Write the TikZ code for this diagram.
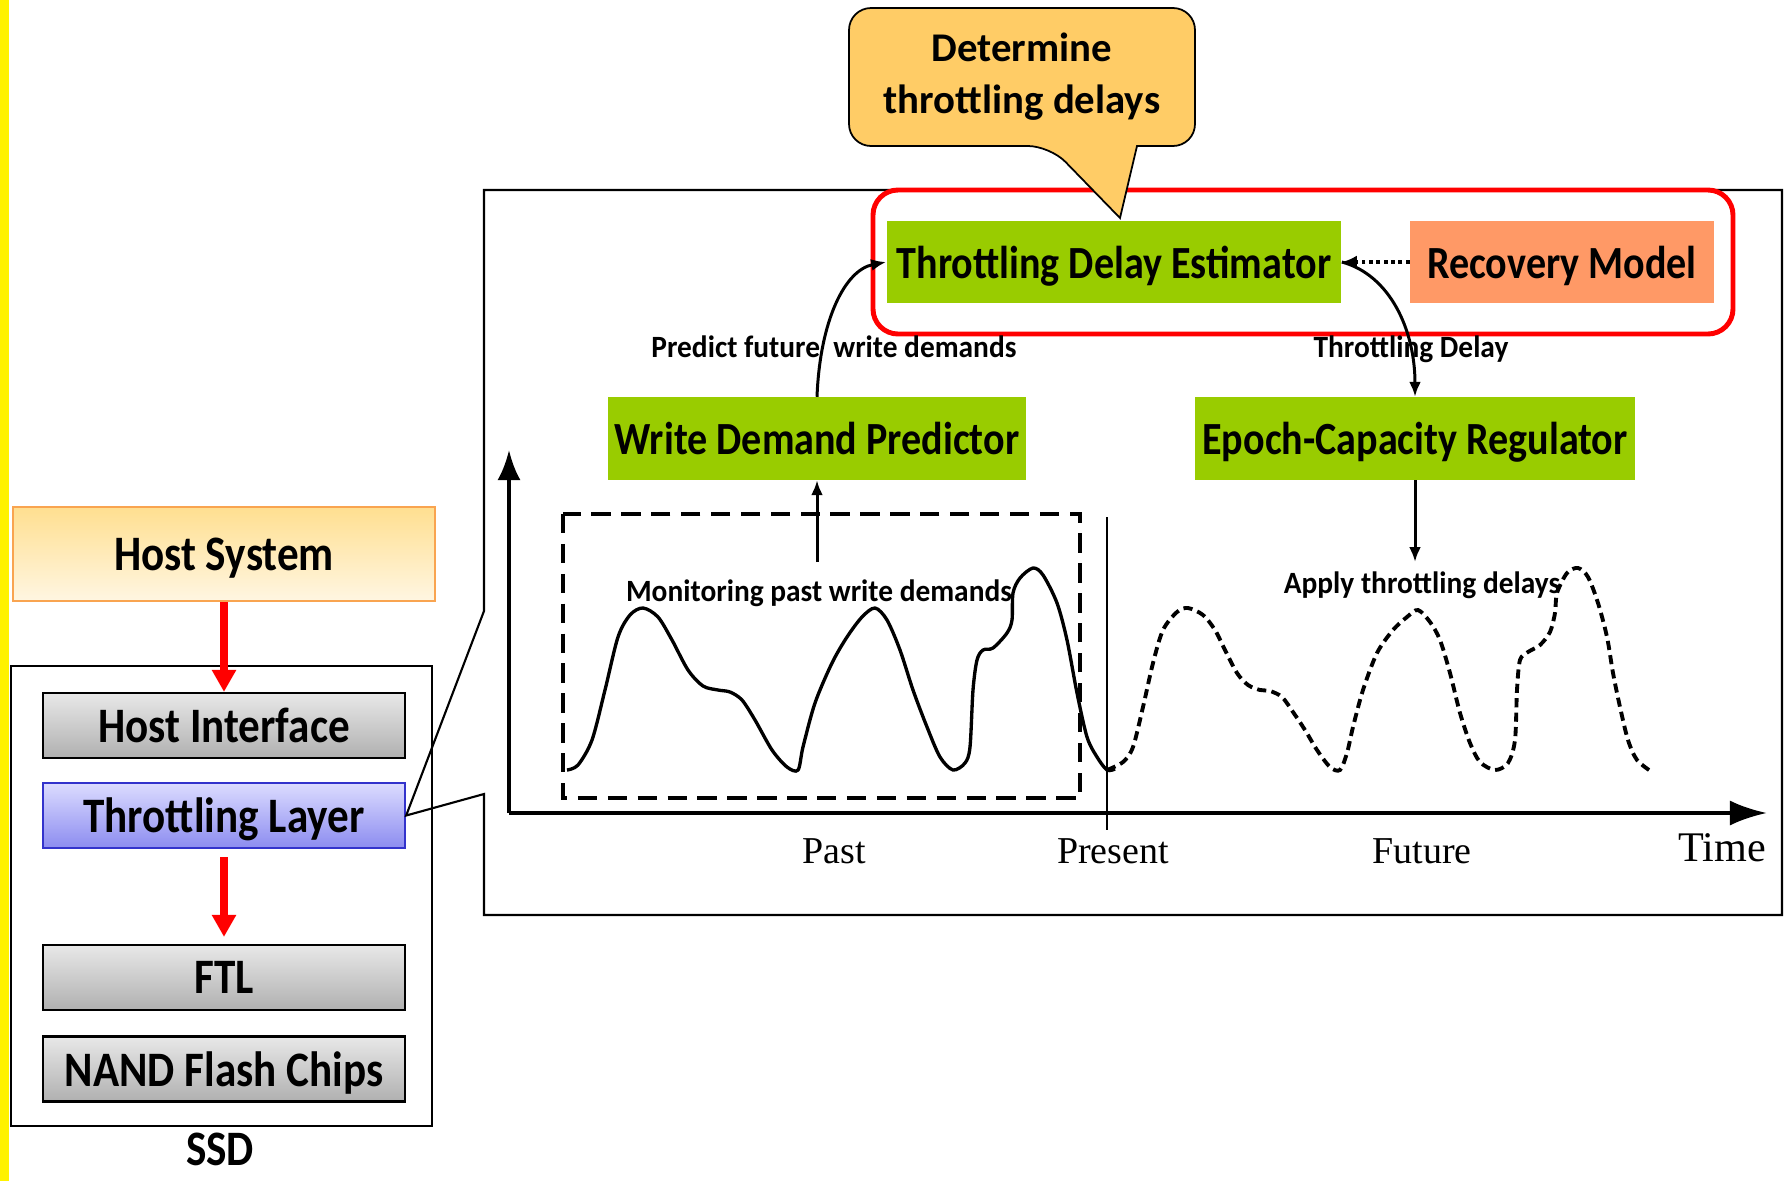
\documentclass[tikz,border=0pt]{standalone}
\usepackage{fontspec}
\setmainfont{Carlito}
\newfontfamily\condfont{Carlito}[FakeStretch=0.87]
\newfontfamily\notefont{Carlito}[FakeStretch=0.95]
\newfontfamily\timesfont{Liberation Serif}
\usetikzlibrary{arrows.meta}
\definecolor{boxgreen}{HTML}{99CC00}
\definecolor{salmon}{HTML}{FF9966}
\definecolor{bubble}{HTML}{FFCC66}
\definecolor{hosttop}{HTML}{FFDF90}
\definecolor{hostbot}{HTML}{FFF6E2}
\definecolor{hostedge}{HTML}{F9A450}
\definecolor{graytop}{HTML}{E8E8E8}
\definecolor{graybot}{HTML}{B0B0B0}
\definecolor{bluetop}{HTML}{DCDCFF}
\definecolor{bluebot}{HTML}{8C8CF0}
\definecolor{blueedge}{HTML}{3333CC}

\begin{document}
\begin{tikzpicture}[x=0.01cm, y=-0.01cm,
  ssdlayer/.style={draw=black, line width=0.6pt, top color=graytop, bottom color=graybot, text depth=0pt,
    minimum width=3.62cm, minimum height=0.65cm, font=\condfont\fontsize{14.1}{16}\selectfont\bfseries},
  module/.style={fill=boxgreen, minimum height=0.82cm, inner xsep=1pt, text depth=0pt,
    font=\condfont\fontsize{13.1}{15}\selectfont\bfseries},
  remark/.style={font=\notefont\fontsize{8.8}{10}\selectfont\bfseries},
  timelabel/.style={font=\timesfont\fontsize{10.8}{12}\selectfont},
  redarrow/.style={red, line width=2.3pt, -{Triangle[width=0.23cm,length=0.22cm]}},
  conn/.style={line width=0.85pt, -{Latex[length=0.15cm,width=0.12cm]}}]
\fill[yellow] (0,0) rectangle (9,1181);
\useasboundingbox (0,0) rectangle (1784,1181);

\node[draw=hostedge, line width=0.6pt, top color=hosttop, bottom color=hostbot, minimum width=4.21cm, text depth=0pt,
  minimum height=0.94cm, font=\condfont\fontsize{14.1}{16}\selectfont\bfseries] (host) at (224,554) {Host System};
\node[draw, line width=0.6pt, minimum width=4.21cm, minimum height=4.6cm] (ssd) at (221.5,896) {};
\node[ssdlayer] (hostif) at (224,725.5) {Host Interface};
\node[ssdlayer, draw=blueedge, top color=bluetop, bottom color=bluebot] (thr) at (224,815.5) {Throttling Layer};
\node[ssdlayer] (ftl) at (224,977.5) {FTL};
\node[ssdlayer] (nand) at (224,1069) {NAND Flash Chips};
\node[inner sep=0pt, font=\condfont\fontsize{14.1}{16}\selectfont\bfseries] (ssdname) at (220,1149) {SSD};
\draw[redarrow] (host.south) -- (hostif.north);
\draw[redarrow] ([yshift=-0.08cm]thr.south) -- ([yshift=0.07cm]ftl.north);

\draw[line width=0.6pt] (thr.east) -- (484,611) -- (484,190) -- (1782,190) -- (1782,915) -- (484,915) -- (484,794) -- cycle;

\draw[red, line width=1.4pt, rounded corners=0.25cm] (873,190) rectangle (1733,334);
\node[module, minimum width=4.54cm] (tde) at (1114,262) {Throttling Delay Estimator};
\node[module, fill=salmon, minimum width=3.03cm] (recov) at (1562,262) {Recovery Model};
\node[module, minimum width=4.17cm] (wdp) at (817,438.5) {Write Demand Predictor};
\node[module, minimum width=4.4cm] (ecr) at (1415,438.5) {Epoch-Capacity Regulator};

\draw[fill=bubble, line width=0.5pt] (1137,146) [rounded corners=0.22cm] -- (1195,146) -- (1195,8) -- (849,8) -- (849,146) -- (1050,146) [sharp corners] -- (1120,218) -- cycle;
\node[align=center, font=\fontsize{11.6}{14.8}\selectfont\bfseries] (goal) at (1022,76.5) {Determine\\throttling delays};

\draw[line width=1.1pt, dash pattern=on 1.1pt off 1pt, -{Latex[length=0.15cm,width=0.13cm]}] (recov) -- (tde);
\draw[conn] (wdp.north) .. controls (820,320) and (845,270) .. (tde.west);
\draw[conn] (tde.east) .. controls (1390,275) and (1415,330) .. (ecr.north);
\node[remark] (predict) at (834,347) {Predict future\ \ write demands};
\node[remark] (delay) at (1411,349) {Throttling Delay};

\coordinate (origin) at (509,813);
\coordinate (ytop) at (509,450);
\coordinate (xend) at (1767,813);
\coordinate (nowtop) at (1107,517);
\coordinate (nowbot) at (1107,830);
\coordinate (monitor) at (817,562);
\coordinate (apply) at (1415,562);
\draw[line width=1.1pt, -{Latex[length=0.3cm,width=0.23cm]}] (origin) -- (ytop);
\draw[line width=1.1pt, -{Latex[length=0.37cm,width=0.25cm]}] (origin) -- (xend);
\draw[line width=0.6pt] (nowtop) -- (nowbot);
\draw[line width=1.1pt, dash pattern=on 5.5pt off 3pt] (563,514) rectangle (1080,798);
\draw[conn] (monitor) -- (wdp.south);
\draw[conn] (ecr.south) -- (apply);
\node[remark] (monlbl) at (819,593) {Monitoring past write demands};
\node[remark] (applbl) at (1422,585) {Apply throttling delays};

\draw[line width=0.95pt] plot[smooth, tension=0.5] coordinates {(567,770) (578,765) (592,740) (605,690) (618,637) (630,615) (643,608) (658,617) (672,640) (688,670) (703,686) (718,690) (730,692) (742,700) (755,720) (772,750) (787,767) (798,770) (803,747) (815,703) (832,663) (847,637) (862,617) (875,608) (887,620) (900,650) (913,690) (927,727) (940,757) (953,770) (965,763) (970,747) (973,690) (977,660) (983,650) (993,648) (1007,633) (1012,620) (1013,593) (1020,578) (1033,568) (1043,575) (1057,603) (1067,640) (1077,693) (1087,737) (1097,757) (1107,770) (1115,769)};
\draw[line width=1.1pt, dash pattern=on 2.6pt off 1.5pt] plot[smooth, tension=0.5] coordinates {(1107,770) (1123,762) (1133,747) (1143,707) (1153,663) (1163,630) (1177,612) (1188,608) (1203,615) (1215,630) (1225,650) (1237,673) (1248,685) (1260,690) (1270,691) (1282,697) (1293,712) (1305,730) (1317,750) (1330,767) (1340,770) (1347,753) (1353,727) (1363,690) (1377,653) (1393,630) (1407,617) (1418,610) (1430,622) (1440,640) (1450,673) (1460,713) (1470,743) (1480,762) (1495,770) (1508,763) (1515,740) (1517,690) (1520,660) (1528,652) (1540,645) (1550,632) (1555,613) (1557,593) (1567,573) (1578,568) (1588,577) (1598,603) (1607,637) (1613,673) (1620,707) (1628,740) (1637,760) (1652,772)};

\node[timelabel] (past) at (834,851) {Past};
\node[timelabel] (present) at (1113,851) {Present};
\node[timelabel] (future) at (1422,851) {Future};
\node[timelabel, font=\timesfont\fontsize{12}{14}\selectfont] (time) at (1722,848) {Time};
\end{tikzpicture}
\end{document}
